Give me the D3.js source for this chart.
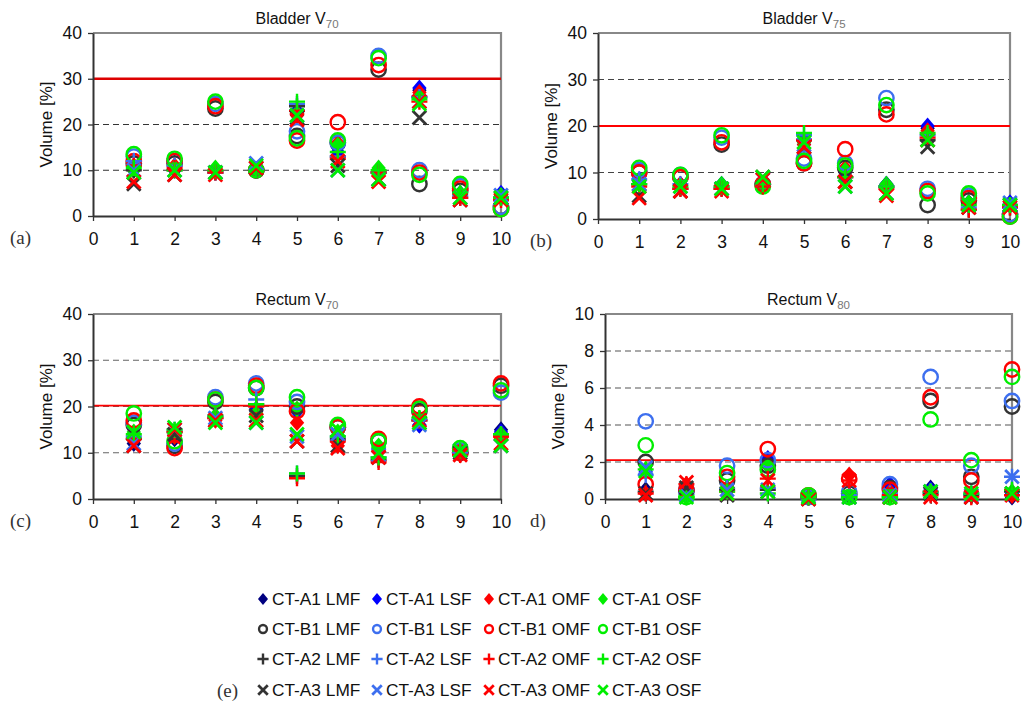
<!DOCTYPE html>
<html><head><meta charset="utf-8">
<script src="https://cdn.jsdelivr.net/npm/d3@7"></script>
<style>
body{margin:0;background:#fff;}
svg text{font-family:"Liberation Sans",Arial,sans-serif;}
</style></head>
<body><svg id="c" width="1023" height="702"></svg>
<script>
// ---------- DATA ----------
const patients = [1,2,3,4,5,6,7,8,9,10];
const seriesNames = [
 "CT-A1 LMF","CT-A1 LSF","CT-A1 OMF","CT-A1 OSF",
 "CT-B1 LMF","CT-B1 LSF","CT-B1 OMF","CT-B1 OSF",
 "CT-A2 LMF","CT-A2 LSF","CT-A2 OMF","CT-A2 OSF",
 "CT-A3 LMF","CT-A3 LSF","CT-A3 OMF","CT-A3 OSF"];
const xTicks = [0,1,2,3,4,5,6,7,8,9,10];
const yTicksWide = [0,10,20,30,40];
const yTicksNarrow = [0,2,4,6,8,10];
const thresholds = [30, 20, 20.2, 2.1];

const bladderV70 = [
 [10,10,10,10,22,15,10,27.5,4.5,4.5],
 [10.5,10.5,10,10,23,14,10,28,5,5],
 [11,11,10,10,22,16,10,27,4.5,4],
 [10,10.5,10.5,10,22.5,15.5,10.5,26,5,4.5],
 [11.5,11.5,23.5,10,17.5,16,32,7,5.5,2],
 [13,12,24.5,10,18.5,16,35,10,6.5,2],
 [12,12,24,10,16.5,20.5,33,9.5,6,1.5],
 [13.5,12.5,25,10,17,16.5,34.5,9,7,1.5],
 [10,10,9.5,10,24,13,9.5,26,4,4],
 [12,11,9.5,10,24.5,13,9.5,26,4.5,4],
 [11,10.5,9.5,10,23,12.5,9.5,25,4,3.5],
 [10.5,10,10,10,25,14,10,25.5,5,4],
 [7,9,9.5,10.5,21.5,11,8,21.5,3.5,4],
 [10,10,9.5,11.5,22,10,8,25,4,4.5],
 [7.5,9,9,10.5,21,12,7.5,25,3.5,3.5],
 [9.5,10,9.5,11,22,10,8,24.5,4,4]];

const bladderV75 = [
 [8,7,7,7.5,16,10,7.5,19.5,3.5,3],
 [8.5,7.5,7.5,7,17,9,7.5,20,3.5,3.5],
 [7.5,7.5,7,7,16,11,7,19,3,3],
 [7.5,7,7.5,7.5,16.5,10.5,7.5,18,3.5,3],
 [10,9,16,7.5,12,11,23.5,3,4,1],
 [10.5,9.5,17.5,7.5,13,12,26,6.5,5,1],
 [10,9,16.5,7.5,12,15,22.5,6,4.5,0.5],
 [11,9.5,18,7,12.5,11.5,24.5,5.5,5.5,0.5],
 [7.5,6.5,6.5,7.5,17,9,7,17,2,2.5],
 [8.5,7.5,7,7.5,18,9,7,18,2.5,3],
 [7,6.5,6.5,7,17,9,6.5,17.5,2,2.5],
 [7.5,7,7,7.5,18.5,9,7,18.5,3,3],
 [5,6,6.5,9,15.5,8,5.5,15.5,2.5,3],
 [7.5,7,6.5,8.5,16,7,5.5,17,3,3.5],
 [4.5,6,6,8.5,15.5,8,5,17,2.5,2.5],
 [7,7,6.5,9,16.5,7,5.5,17,3,3]];

const rectumV70 = [
 [12,13,17.5,19,19,13,11,16,10,15],
 [13,14,17.5,19.5,19,13.5,11,16,10,14.5],
 [14,13.5,17,18.5,16.5,11.5,10.5,17,9.5,14],
 [14.5,14,18,18.5,19.5,14.5,11.5,17.5,10.5,14],
 [16,11.5,21,24,20,15.5,12.5,19,10,24.5],
 [16.5,12,22,25,21,15.5,12.5,19.5,10.5,23],
 [17,11,21.5,24.5,19,15.5,13,20,10,25],
 [18.5,12.5,21.5,24,22,16,12.5,19.5,11,23.5],
 [13,14.5,17.5,20.5,5,13,8.5,17,10,14],
 [13.5,15,18,21.5,5.5,13.5,9,17,10,14],
 [13,14.5,17.5,20,4.5,12.5,8,17,9.5,13.5],
 [14,15,18,20.5,5.5,13.5,9,17.5,10.5,14],
 [11.5,14,17,18,12.5,11.5,9,16.5,10,11.5],
 [12,15,17.5,16.5,13.5,14,9.5,16,10.5,11.5],
 [11.5,15,17,17,12.5,11,9,17,9.5,12],
 [14.5,15.5,16.5,16.5,14,15,10,16.5,10.5,11.5]];

const rectumV80 = [
 [0.5,0.6,0.4,1.8,0.1,0.1,0.6,0.6,0.2,0.1],
 [1.5,0.5,0.6,2.2,0.1,0.2,0.8,0.5,0.2,0.3],
 [0.3,0.8,0.5,1.9,0.1,1.3,0.4,0.4,0.2,0.2],
 [1.6,0.1,0.6,1.8,0.1,0.1,0.1,0.4,0.3,0.4],
 [2.0,0.5,1.0,1.8,0.1,0.3,0.6,5.3,1.2,5.0],
 [4.2,0.5,1.8,2.1,0.1,0.4,0.8,6.6,1.8,5.3],
 [0.8,0.5,1.2,2.7,0.2,1.1,0.5,5.5,1.0,7.0],
 [2.9,0.1,1.4,1.6,0.2,0.1,0.1,4.3,2.1,6.6],
 [0.4,0.4,0.5,0.5,0.1,0.2,0.2,0.3,0.2,0.4],
 [1.3,0.3,0.6,0.6,0.1,0.2,0.3,0.4,0.3,1.2],
 [0.3,0.8,0.4,1.1,0.1,1.0,0.2,0.2,0.1,0.2],
 [1.6,0.1,0.4,0.3,0.1,0.1,0.1,0.4,0.3,0.5],
 [0.3,0.6,0.2,0.4,0.0,0.1,0.1,0.3,0.1,0.3],
 [1.7,0.2,0.5,0.5,0.1,0.1,0.2,0.4,0.2,1.2],
 [0.2,0.9,0.3,1.0,0.0,1.0,0.1,0.1,0.1,0.2],
 [1.5,0.1,0.3,0.4,0.1,0.1,0.1,0.4,0.3,0.3]];

// ---------- STYLE ----------
const shapeOf = ["diamond","circle","plus","cross"];          // per CT group
const colorsDiamond = ["#000080","#0000ff","#ff0000","#00ee00"];
const colorsOther   = ["#333333","#3d6fef","#ff0000","#00ee00"];
function colorFor(i){ const g=Math.floor(i/4), k=i%4; return g===0?colorsDiamond[k]:colorsOther[k]; }

function drawMarker(sel, shape, color, s){
  if(shape==="diamond"){
    sel.append("path").attr("d",`M0,${-s*1.05}L${s*0.9},0L0,${s*1.05}L${-s*0.9},0Z`).attr("fill",color);
  } else if(shape==="circle"){
    sel.append("circle").attr("r",s*0.9).attr("fill","none").attr("stroke",color).attr("stroke-width",2.4);
  } else if(shape==="plus"){
    sel.append("path").attr("d",`M${-s},0H${s}M0,${-s}V${s}`).attr("stroke",color).attr("stroke-width",2.4).attr("fill","none");
  } else {
    const t=s*0.85;
    sel.append("path").attr("d",`M${-t},${-t}L${t},${t}M${-t},${t}L${t},${-t}`).attr("stroke",color).attr("stroke-width",2.8).attr("fill","none");
  }
}

const svg = d3.select("#c");

const panels = [
 {data:bladderV70, title:"Bladder V", sub:"70", label:"(a)", lx:10,  l:93, r:501, t:33, b:216, max:40, ticks:yTicksWide, thr:thresholds[0], thrW:2.4, thrC:"#dd0000", grid:"#333"},
 {data:bladderV75, title:"Bladder V", sub:"75", label:"(b)", lx:530, l:598, r:1010, t:33, b:219, max:40, ticks:yTicksWide, thr:thresholds[1], thrW:2, thrC:"#ff0000", grid:"#444"},
 {data:rectumV70,  title:"Rectum V", sub:"70", label:"(c)", lx:10,  l:93, r:501, t:314, b:499, max:40, ticks:yTicksWide, thr:thresholds[2], thrW:1.6, thrC:"#ff0000", grid:"#666"},
 {data:rectumV80,  title:"Rectum V", sub:"80", label:"d)",  lx:530, l:605, r:1012, t:314, b:499, max:10, ticks:yTicksNarrow, thr:thresholds[3], thrW:1.6, thrC:"#ff0000", grid:"#555"}
];

panels.forEach(p=>{
  const x = d3.scaleLinear().domain([0,10]).range([p.l,p.r]);
  const y = d3.scaleLinear().domain([0,p.max]).range([p.b,p.t]);
  const g = svg.append("g");

  g.selectAll(".grid").data(p.ticks.filter(v=>v>0 && v<p.max)).enter().append("line")
    .attr("x1",p.l).attr("x2",p.r).attr("y1",d=>y(d)).attr("y2",d=>y(d))
    .attr("stroke",p.grid).attr("stroke-width",1.2).attr("stroke-dasharray","6,4");

  g.append("path").attr("d",`M${p.l},${p.t}H${p.r}V${p.b}`).attr("fill","none").attr("stroke","#888").attr("stroke-width",2.2);

  g.append("line").attr("x1",p.l).attr("x2",p.r).attr("y1",y(p.thr)).attr("y2",y(p.thr))
    .attr("stroke",p.thrC).attr("stroke-width",p.thrW);

  const ya = g.append("g").attr("transform",`translate(${p.l},0)`)
    .call(d3.axisLeft(y).tickValues(p.ticks).tickSize(5).tickPadding(6).tickSizeOuter(0));
  const xa = g.append("g").attr("transform",`translate(0,${p.b})`)
    .call(d3.axisBottom(x).tickValues(xTicks).tickSize(5).tickPadding(12).tickSizeOuter(0));
  [ya,xa].forEach(a=>{
    a.select(".domain").attr("stroke","#333").attr("stroke-width",2);
    a.selectAll(".tick line").attr("stroke","#333").attr("stroke-width",1.3);
    a.selectAll(".tick text").attr("fill","#111").style("font-size","17.5px").style("font-family","'Liberation Sans',Arial,sans-serif");
  });

  const tt = g.append("text").attr("x",(p.l+p.r)/2).attr("y",p.t-9).attr("text-anchor","middle")
    .style("font-size","16px").attr("fill","#111");
  tt.append("tspan").text(p.title);
  tt.append("tspan").text(p.sub).attr("dy",4).style("font-size","11.5px").attr("fill","#777");

  g.append("text").attr("transform",`translate(${p.l-47},${(p.t+p.b)/2}) rotate(-90)`)
    .attr("text-anchor","middle").attr("dy","0.35em").style("font-size","17px").attr("fill","#111").text("Volume [%]");

  g.append("text").attr("x",p.lx).attr("y",p.b+28).style("font-family","'Liberation Serif','Times New Roman',serif")
    .style("font-size","19px").attr("fill","#333").text(p.label);

  p.data.forEach((vals,i)=>{
    const shape = shapeOf[Math.floor(i/4)], col = colorFor(i);
    vals.forEach((v,j)=>{
      const m = g.append("g").attr("transform",`translate(${x(patients[j])},${y(v)})`);
      drawMarker(m, shape, col, 8);
    });
  });
});

// ---------- LEGEND ----------
const legX = [263,377,489,603];
const legY = [599,629,659,690];
seriesNames.forEach((name,i)=>{
  const row=Math.floor(i/4), col=i%4;
  const lg = svg.append("g").attr("transform",`translate(${legX[col]},${legY[row]})`);
  const shape = shapeOf[row];
  drawMarker(lg, shape, colorFor(i), shape==="diamond"?5.6:(shape==="circle"?4.4:5.6));
  lg.append("text").attr("x",9).attr("dy","0.36em").style("font-size","17.3px").attr("fill","#111").text(name);
});
svg.append("text").attr("x",217).attr("y",697).style("font-family","'Liberation Serif','Times New Roman',serif")
  .style("font-size","19px").attr("fill","#333").text("(e)");
</script></body></html>
